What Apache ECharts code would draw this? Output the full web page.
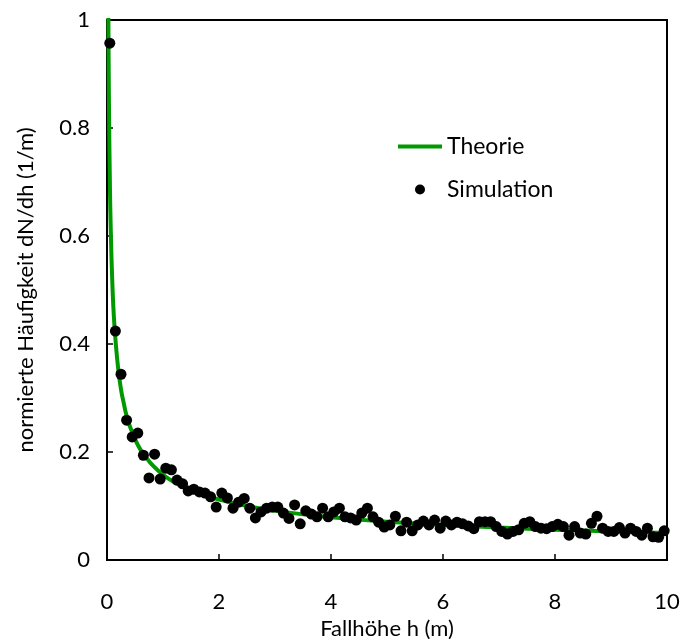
<!DOCTYPE html>
<html>
<head>
<meta charset="utf-8">
<script src="https://cdn.jsdelivr.net/npm/echarts@6/dist/echarts.min.js"></script>
<style>html,body{margin:0;padding:0;background:#fff}#c{width:682px;height:639px}</style>
</head>
<body>
<div id="c"></div>
<script>
const theoryH = [0.015,0.02,0.025,0.03,0.035,0.04,0.05,0.06,0.075,0.08,0.1,0.12,0.15,0.2,0.25,0.3,0.35,0.4,0.5,0.6,0.7,0.8,1,1.2,1.5,1.75,2,2.5,3,4,5,6,7,8,9,10];
const theoryY = [1.29,1.12,1.0,0.91,0.845,0.79,0.71,0.645,0.58,0.56,0.5,0.456,0.41,0.354,0.316,0.29,0.267,0.25,0.224,0.204,0.19,0.177,0.158,0.144,0.129,0.12,0.112,0.1,0.091,0.079,0.071,0.065,0.06,0.056,0.053,0.05];

const simH = [0.05,0.15,0.25,0.35,0.45,0.55,0.65,0.75,0.85,0.95,
1.05,1.15,1.25,1.35,1.45,1.55,1.65,1.75,1.85,1.95,
2.05,2.15,2.25,2.35,2.45,2.55,2.65,2.75,2.85,2.95,
3.05,3.15,3.25,3.35,3.45,3.55,3.65,3.75,3.85,3.95,
4.05,4.15,4.25,4.35,4.45,4.55,4.65,4.75,4.85,4.95,
5.05,5.15,5.25,5.35,5.45,5.55,5.65,5.75,5.85,5.95,
6.05,6.15,6.25,6.35,6.45,6.55,6.65,6.75,6.85,6.95,
7.05,7.15,7.25,7.35,7.45,7.55,7.65,7.75,7.85,7.95,
8.05,8.15,8.25,8.35,8.45,8.55,8.65,8.75,8.85,8.95,
9.05,9.15,9.25,9.35,9.45,9.55,9.65,9.75,9.85,9.95];
const simY = [0.957,0.424,0.344,0.259,0.228,0.235,0.194,0.152,0.196,0.150,
0.170,0.167,0.148,0.141,0.128,0.131,0.126,0.124,0.117,0.098,
0.124,0.115,0.096,0.107,0.114,0.096,0.078,0.089,0.096,0.098,
0.098,0.087,0.077,0.102,0.067,0.091,0.085,0.080,0.096,0.080,
0.089,0.096,0.080,0.078,0.074,0.087,0.096,0.080,0.070,0.061,
0.065,0.081,0.054,0.070,0.054,0.065,0.072,0.065,0.074,0.059,
0.072,0.065,0.070,0.067,0.063,0.058,0.071,0.071,0.071,0.062,
0.053,0.048,0.053,0.056,0.068,0.071,0.062,0.059,0.058,0.062,
0.066,0.062,0.046,0.062,0.050,0.048,0.068,0.081,0.059,0.053,
0.053,0.060,0.050,0.059,0.053,0.046,0.059,0.043,0.042,0.054];

const xTicks = [0,2,4,6,8,10];
const yTicks = [0,0.2,0.4,0.6,0.8,1];

const FONT = 'Lato';
const chart = echarts.init(document.getElementById('c'), null, {renderer:'canvas'});
chart.setOption({
  animation:false,
  backgroundColor:'#fff',
  textStyle:{fontFamily:FONT},
  grid:{left:107,right:15,top:20,bottom:79,outerBoundsMode:'none',containLabel:false,show:true,borderColor:'#000',borderWidth:2,backgroundColor:'transparent'},
  legend:{
    orient:'vertical', left:398, top:135, padding:0, itemWidth:44, itemHeight:10, itemGap:20,
    textStyle:{fontFamily:FONT,fontSize:23,color:'#000',lineHeight:22},
    data:[{name:'Theorie',icon:'path://M0,0h44v4h-44z'},{name:'Simulation',icon:'circle'}]
  },
  xAxis:{
    type:'value', min:xTicks[0], max:xTicks[xTicks.length-1], interval:2,
    name:'Fallhöhe h (m)', nameLocation:'middle', nameGap:53,
    nameTextStyle:{fontFamily:FONT,fontSize:22,color:'#000'},
    axisLine:{show:true,lineStyle:{color:'#000',width:2}},
    axisTick:{show:true,inside:true,length:6,lineStyle:{color:'#000',width:1.5}},
    axisLabel:{margin:31,fontFamily:FONT,fontSize:22,color:'#000'},
    splitLine:{show:false}
  },
  yAxis:{
    type:'value', min:yTicks[0], max:yTicks[yTicks.length-1], interval:0.2,
    name:'normierte Häufigkeit dN/dh (1/m)', nameLocation:'middle', nameGap:70,
    nameTextStyle:{fontFamily:FONT,fontSize:22,color:'#000'},
    axisLine:{show:true,lineStyle:{color:'#000',width:2}},
    axisTick:{show:true,inside:true,length:6,lineStyle:{color:'#000',width:1.5}},
    axisLabel:{margin:17,fontFamily:FONT,fontSize:22,color:'#000'},
    splitLine:{show:false}
  },
  series:[
    {name:'Theorie', type:'line', data:theoryH.map((h,i)=>[h,theoryY[i]]), showSymbol:false, symbol:'none', smooth:true, clip:true,
     lineStyle:{color:'#009a00',width:4}, itemStyle:{color:'#009a00'}, z:2},
    {name:'Simulation', type:'scatter', data:simH.map((h,i)=>[h,simY[i]]), symbol:'circle', symbolSize:11, clip:false,
     itemStyle:{color:'#000',opacity:1}, z:3}
  ]
});
</script>
</body>
</html>
